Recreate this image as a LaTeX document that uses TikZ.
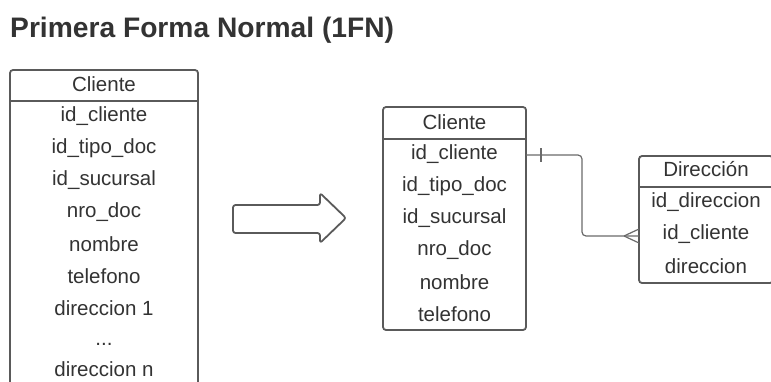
\documentclass[tikz,border=0pt]{standalone}
\usepackage{fontspec}
\setmainfont{Liberation Sans}
\definecolor{linegray}{HTML}{5A5A5A}
\definecolor{txt}{HTML}{333333}
\definecolor{conngray}{HTML}{6A6A6A}
\begin{document}
\begin{tikzpicture}[x=1pt,y=-1pt,
  tbl/.style={draw=linegray, line width=1.8pt, rounded corners=3pt, fill=white,
              inner sep=0pt, outer sep=0pt, anchor=north west},
  fld/.style={text=txt, font=\fontsize{20.5}{23}\selectfont, inner sep=0pt},
  sep/.style={draw=linegray, line width=1.8pt},
  conn/.style={draw=conngray, line width=1.2pt},
  bigarrow/.style={draw=linegray, line width=1.8pt, rounded corners=2.5pt, line join=round}]
\useasboundingbox (0,0) rectangle (771,381);
\clip (0,0) rectangle (771,381);

% title
\node[anchor=base west, inner sep=0pt, text=txt,
      font=\fontsize{28.2}{31}\selectfont\bfseries] (title) at (10,37) {Primera Forma Normal (1FN)};

% unnormalised Cliente table
\node[tbl, minimum width=188pt, minimum height=330pt] (c1) at (10,70) {};
\draw[sep] ([yshift=-31pt]c1.north west) -- ([yshift=-31pt]c1.north east);
\node[fld] (c1h) at (104,84) {Cliente};
\node[fld] (c1r1) at (104,116) {id\_cliente};
\node[fld] (c1r2) at (104,148) {id\_tipo\_doc};
\node[fld] (c1r3) at (104,180) {id\_sucursal};
\node[fld] (c1r4) at (104,212) {nro\_doc};
\node[fld] (c1r5) at (104,244) {nombre};
\node[fld] (c1r6) at (104,276) {telefono};
\node[fld] (c1r7) at (104,308) {direccion 1};
\node[fld, anchor=base] (c1r8) at (104,345) {...};
\node[fld] (c1r9) at (104,369) {direccion n};

% transformation arrow
\draw[bigarrow] (233,205) -- (320,205) -- (320,193) -- (346,218) -- (320,243)
                -- (320,233) -- (233,233) -- cycle;

% normalised Cliente table
\node[tbl, minimum width=143pt, minimum height=223pt] (c2) at (383,107) {};
\draw[sep] ([yshift=-32pt]c2.north west) -- ([yshift=-32pt]c2.north east);
\node[fld] (c2h) at (454.5,122) {Cliente};
\node[fld] (c2r1) at (454.5,154) {id\_cliente};
\node[fld] (c2r2) at (454.5,186) {id\_tipo\_doc};
\node[fld] (c2r3) at (454.5,218) {id\_sucursal};
\node[fld] (c2r4) at (454.5,250) {nro\_doc};
\node[fld] (c2r5) at (454.5,282) {nombre};
\node[fld] (c2r6) at (454.5,314) {telefono};

% Direccion table
\node[tbl, minimum width=134pt, minimum height=127pt] (dir) at (639,156) {};
\draw[sep] ([yshift=-31pt]dir.north west) -- ([yshift=-31pt]dir.north east);
\node[fld] (dh) at (706,169) {Dirección};
\node[fld] (dr1) at (706,202) {id\_direccion};
\node[fld] (dr2) at (706,234) {id\_cliente};
\node[fld] (dr3) at (706,266) {direccion};

% one-to-many relationship
\coordinate (bend) at (582,0);
\coordinate (foot) at (624,0);
\coordinate (rowa) at (0,155);
\coordinate (rowb) at (0,236);
\draw[conn, rounded corners=4pt] (c2.east |- rowa) -| (bend |- rowb) -- (dir.west |- rowb);
\draw[conn] ([xshift=15pt]c2.east |- rowa) ++(0,-7) -- ++(0,14);
\draw[conn] (foot |- rowb) -- ([yshift=7pt]dir.west |- rowb);
\draw[conn] (foot |- rowb) -- ([yshift=-7pt]dir.west |- rowb);
\end{tikzpicture}
\end{document}
